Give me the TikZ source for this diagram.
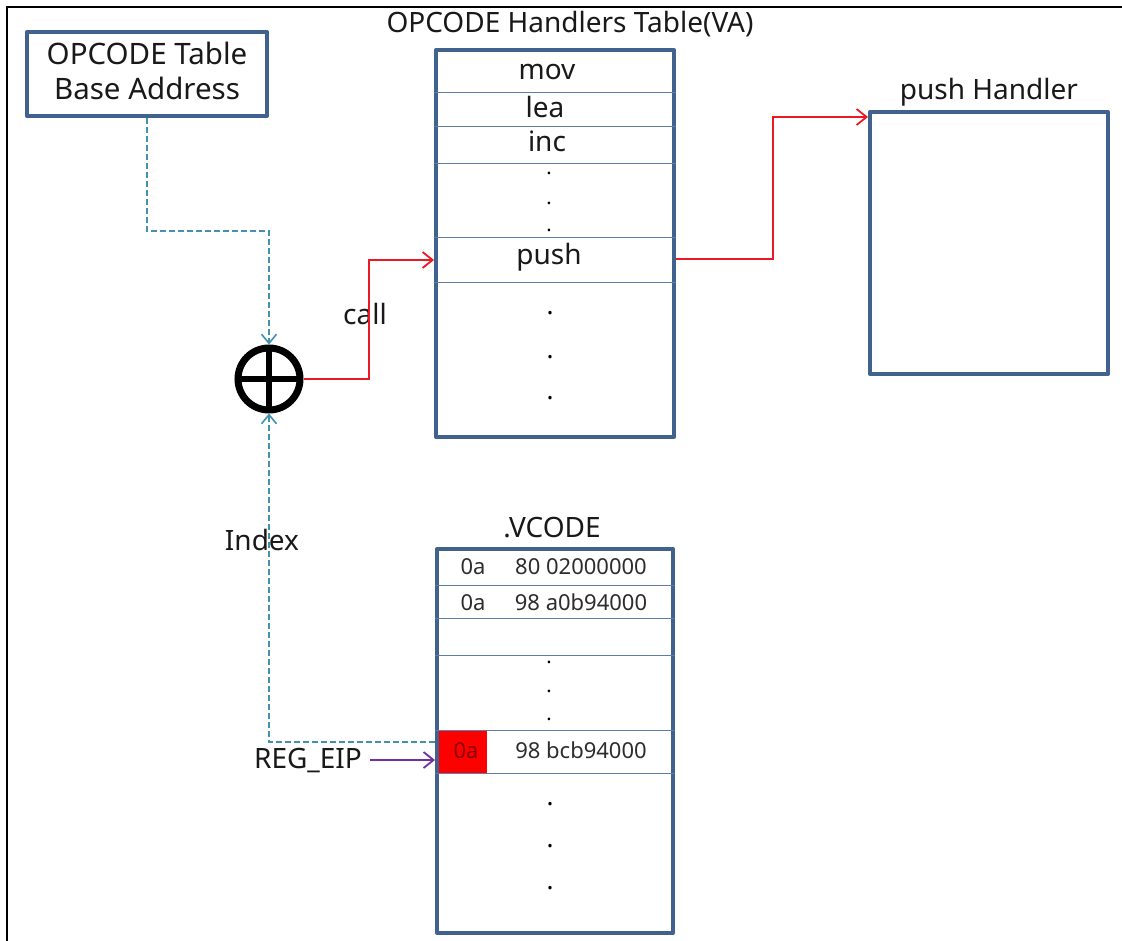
\documentclass[tikz,border=0pt]{standalone}
\usepackage{fontspec}
\setmainfont{Noto Sans}
\usetikzlibrary{arrows.meta}
\definecolor{boxblue}{RGB}{65,98,140}
\definecolor{rowline}{RGB}{95,125,170}
\definecolor{dashteal}{RGB}{65,145,175}
\definecolor{linered}{RGB}{235,25,35}
\definecolor{eippurple}{RGB}{112,48,160}
\definecolor{txtgray}{RGB}{45,45,45}
\definecolor{darkred}{RGB}{140,0,0}
\begin{document}
\begin{tikzpicture}[x=1pt,y=-1pt,
  bigbox/.style={draw=boxblue,line width=4pt,line join=round,fill=white,inner sep=0pt},
  lbl/.style={inner sep=0pt,anchor=base,font=\fontsize{28}{36}\selectfont,text=black!90},
  small/.style={inner sep=0pt,anchor=base,font=\fontsize{22}{26}\selectfont,text=txtgray},
  dotn/.style={inner sep=0pt,font=\fontsize{26}{30}\selectfont},
  divider/.style={draw=rowline,line width=1pt},
  dashline/.style={draw=dashteal,line width=2pt,dash pattern=on 6pt off 3pt,-{Straight Barb[length=9pt,width=15pt,line width=1.6pt]}},
  redline/.style={draw=linered,line width=2pt,-{Straight Barb[length=10pt,width=16pt,line width=1.8pt]}},
  purpleline/.style={draw=eippurple,line width=2pt,-{Straight Barb[length=10pt,width=16pt,line width=1.8pt]}}
]
\useasboundingbox (0,0) rectangle (1122,941);
\fill[white] (0,0) rectangle (1122,941);
\draw[line width=1.5pt] (7,941) -- (7,7) -- (1122,7);

% base address box
\node[bigbox,minimum width=240pt,minimum height=84pt] (base) at (147,74) {};
\node[lbl,font=\fontsize{29.5}{36}\selectfont] (base1) at (147,65) {OPCODE Table};
\node[lbl,font=\fontsize{29.5}{36}\selectfont] (base2) at (147,100) {Base Address};

% handlers table
\node[lbl] (tbltitle) at (570,33) {OPCODE Handlers Table(VA)};
\node[bigbox,minimum width=238pt,minimum height=387pt] (tbl) at (555,243.5) {};
\draw[divider] (tbl.west |- 0,93) -- (tbl.east |- 0,93);
\draw[divider] (tbl.west |- 0,127) -- (tbl.east |- 0,127);
\draw[divider] (tbl.west |- 0,164) -- (tbl.east |- 0,164);
\draw[divider] (tbl.west |- 0,238) -- (tbl.east |- 0,238);
\draw[divider] (tbl.west |- 0,283) -- (tbl.east |- 0,283);
\node[lbl] (mov) at (547,80) {mov};
\node[lbl] (lea) at (545,118) {lea};
\node[lbl] (inc) at (547,152) {inc};
\node[dotn,font=\fontsize{20}{24}\selectfont] (td1) at (549,173) {.};
\node[dotn,font=\fontsize{20}{24}\selectfont] (td2) at (549,203) {.};
\node[dotn,font=\fontsize{20}{24}\selectfont] (td3) at (549,230) {.};
\node[lbl] (push) at (549,265) {push};
\node[dotn] (td4) at (550,313) {.};
\node[dotn] (td5) at (550,357) {.};
\node[dotn] (td6) at (550,398) {.};

% push handler
\node[lbl] (phtitle) at (989,100) {push Handler};
\node[bigbox,minimum width=238pt,minimum height=262pt] (ph) at (989,243) {};

% VCODE
\node[lbl] (vtitle) at (552,537) {.VCODE};
\node[draw=none,fill=red,inner sep=0pt,minimum width=49pt,minimum height=43pt] (redcell) at (462.5,751.5) {};
\node[bigbox,fill=none,minimum width=236pt,minimum height=384pt] (vbox) at (555,741) {};
\draw[divider] (vbox.west |- 0,585) -- (vbox.east |- 0,585);
\draw[divider] (vbox.west |- 0,618) -- (vbox.east |- 0,618);
\draw[divider] (vbox.west |- 0,655) -- (vbox.east |- 0,655);
\draw[divider] (vbox.west |- 0,730) -- (vbox.east |- 0,730);
\draw[divider] (vbox.west |- 0,773) -- (vbox.east |- 0,773);
\node[small] (r1a) at (473,574) {0a};
\node[small] (r1b) at (581,574) {80 02000000};
\node[small] (r2a) at (473,610) {0a};
\node[small] (r2b) at (581,610) {98 a0b94000};
\node[dotn,font=\fontsize{20}{24}\selectfont] (vd1) at (549,662) {.};
\node[dotn,font=\fontsize{20}{24}\selectfont] (vd2) at (549,691) {.};
\node[dotn,font=\fontsize{20}{24}\selectfont] (vd3) at (549,719) {.};
\node[small,text=darkred] (r3a) at (466,758) {0a};
\node[small] (r3b) at (581,758) {98 bcb94000};
\node[dotn] (vd4) at (550,804) {.};
\node[dotn] (vd5) at (550,846) {.};
\node[dotn] (vd6) at (550,888) {.};

% adder
\node[draw=black,line width=7pt,circle,minimum size=62pt,inner sep=0pt] (circ) at (269,379) {};
\draw[line width=6pt] (circ.center) ++(0,-31) -- ++(0,62);
\draw[line width=6pt] (circ.center) ++(-31,0) -- ++(62,0);

% labels
\node[lbl] (call) at (365,325) {call};
\node[lbl] (index) at (262,550) {Index};
\node[lbl,inner xsep=8pt] (regeip) at (308,768) {REG\_EIP};

% connectors
\draw[dashline] (base.south) -- (base.south |- 0,231) -| (circ.north);
\draw[dashline] (vbox.west |- 0,742) -| (circ.south);
\draw[redline] (circ.east) -- (circ.east -| 369,0) |- (tbl.west |- 0,260);
\draw[redline] (tbl.east |- 0,259) -| (773,117) -- (ph.west |- 0,117);
\draw[purpleline] (regeip.east) -- (regeip.east -| vbox.west);
\end{tikzpicture}
\end{document}
